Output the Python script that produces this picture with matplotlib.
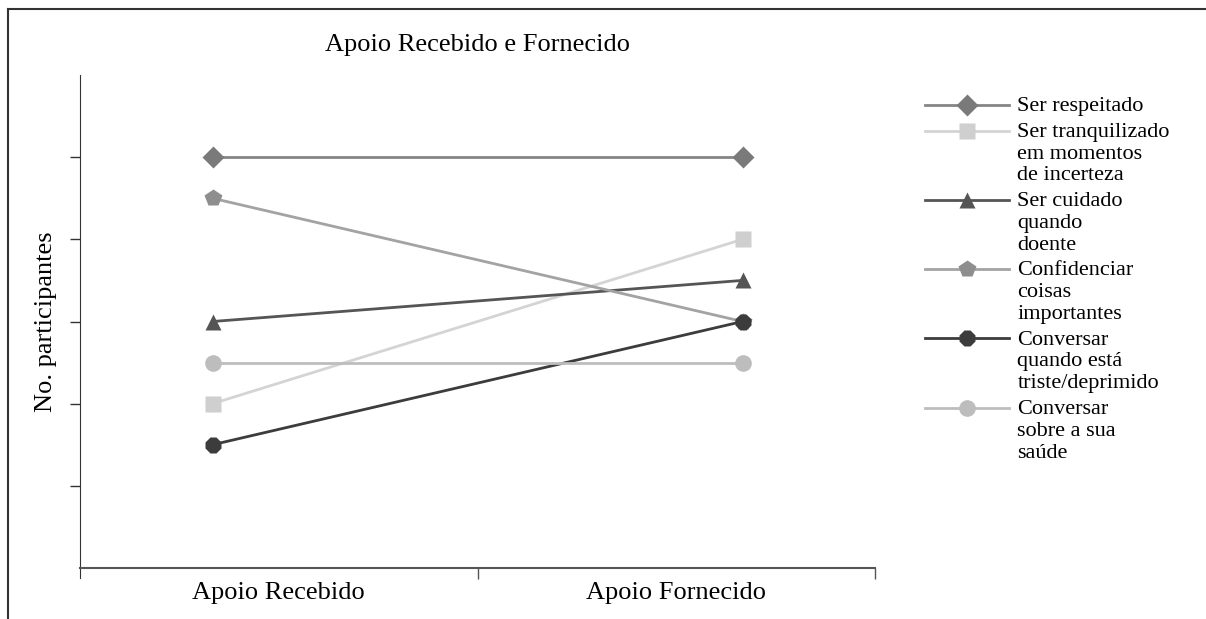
import matplotlib.pyplot as plt
from matplotlib.lines import Line2D

plt.rcParams['font.family'] = ['Liberation Serif', 'DejaVu Serif']

categories = ['Apoio Recebido', 'Apoio Fornecido']
series_names = [
    'Ser respeitado',
    'Ser tranquilizado\nem momentos\nde incerteza',
    'Ser cuidado\nquando\ndoente',
    'Confidenciar\ncoisas\nimportantes',
    'Conversar\nquando está\ntriste/deprimido',
    'Conversar\nsobre a sua\nsaúde',
]
respeitado = [5, 5]
tranquilizado = [2, 4]
cuidado = [3, 3.5]
confidenciar = [4.5, 3]
conversar_triste = [1.5, 3]
conversar_saude = [2.5, 2.5]
series_values = [respeitado, tranquilizado, cuidado, confidenciar,
                 conversar_triste, conversar_saude]

styles = [
    dict(color='#858585', marker='D', markersize=11, mfc='#7a7a7a'),
    dict(color='#d4d4d4', marker='s', markersize=12, mfc='#cfcfcf'),
    dict(color='#555555', marker='^', markersize=12, mfc='#555555'),
    dict(color='#a3a3a3', marker='p', markersize=13, mfc='#8e8e8e'),
    dict(color='#3c3c3c', marker='8', markersize=12, mfc='#3c3c3c'),
    dict(color='#bdbdbd', marker='o', markersize=12, mfc='#bdbdbd'),
]

fig = plt.figure(figsize=(12.06, 6.19), dpi=100)
ax = fig.add_axes([80 / 1206, 1 - 568 / 619, 795 / 1206, 493 / 619])

# category positions inside the two bins
x_pos = [1 / 6, 5 / 6]
for name, vals, st in zip(series_names, series_values, styles):
    ax.plot(x_pos, vals, label=name, linewidth=2, mec='none', **st)

ax.set_xlim(0, 1)
ax.set_ylim(0, 6)
ax.set_yticks([1, 2, 3, 4, 5])
ax.set_yticklabels([])
ax.tick_params(axis='y', direction='out', length=7, width=1, color='#333333')

ax.set_xticks([0.5, 1.0])
ax.set_xticklabels([])
ax.tick_params(axis='x', which='major', direction='out', length=8, width=1, color='#555555')
ax.set_xticks([0.25, 0.75], minor=True)
ax.set_xticklabels(categories, minor=True, fontsize=19)
ax.tick_params(axis='x', which='minor', length=0, pad=10)

for s in ['top', 'right']:
    ax.spines[s].set_visible(False)
ax.spines['left'].set_color('#333333')
ax.spines['bottom'].set_color('#555555')
ax.spines['bottom'].set_linewidth(1.5)
ax.spines['left'].set_bounds(-0.12, 6)

ax.set_ylabel('No. participantes', fontsize=19, labelpad=6)
ax.set_title('Apoio Recebido e Fornecido', fontsize=19, pad=17)

leg = ax.legend(loc='upper left', bbox_to_anchor=(1.052, 0.973), frameon=False,
                fontsize=16, handlelength=3.75, handletextpad=0.4,
                labelspacing=0.3, borderaxespad=0)
# put each handle beside the first line of its label
for col in leg._legend_handle_box.get_children():
    for row in col.get_children():
        row.align = 'top'

# page frame
fig.add_artist(Line2D([8 / 1206, 1], [1 - 9 / 619, 1 - 9 / 619], color='#333333', lw=1.5))
fig.add_artist(Line2D([8 / 1206, 8 / 1206], [0, 1 - 9 / 619], color='#333333', lw=1.5))

fig.savefig('out.png', dpi=100)
